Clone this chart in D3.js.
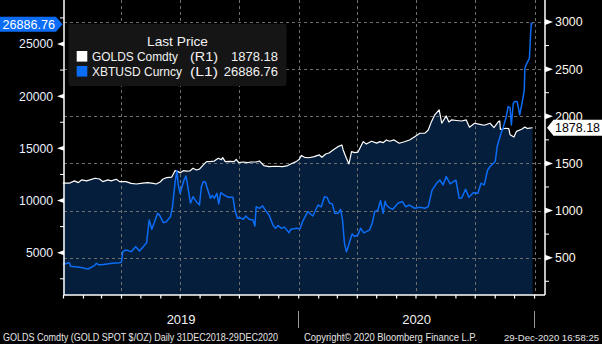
<!DOCTYPE html>
<html><head><meta charset="utf-8">
<script src="https://cdn.jsdelivr.net/npm/d3@7"></script>
<style>
html,body{margin:0;padding:0;background:#000;}
svg{display:block;}
text{font-family:"Liberation Sans",Arial,sans-serif;}
</style></head><body>
<svg id="c" width="602" height="344"></svg>
<script>
// ---- data ----
const goldPrices = [
 ["2018-12-31",1290],["2019-01-10",1290],["2019-01-18",1315],["2019-01-24",1296],["2019-01-29",1325],
 ["2019-02-06",1315],["2019-02-11",1325],["2019-02-19",1343],["2019-02-26",1335],["2019-03-03",1307],
 ["2019-03-11",1325],["2019-03-16",1315],["2019-03-24",1332],["2019-03-29",1307],["2019-04-08",1307],
 ["2019-04-16",1289],["2019-04-24",1282],["2019-05-04",1290],["2019-05-12",1296],["2019-05-20",1289],
 ["2019-05-25",1282],["2019-05-31",1303],["2019-06-04",1332],["2019-06-10",1350],["2019-06-18",1355],
 ["2019-06-23",1423],["2019-06-28",1413],["2019-07-01",1400],["2019-07-06",1423],["2019-07-11",1418],
 ["2019-07-16",1420],["2019-07-21",1449],["2019-07-26",1430],["2019-07-31",1440],["2019-08-06",1484],
 ["2019-08-11",1519],["2019-08-18",1522],["2019-08-23",1525],["2019-08-29",1555],["2019-09-03",1540],
 ["2019-09-05",1562],["2019-09-09",1519],["2019-09-16",1522],["2019-09-23",1519],["2019-09-26",1544],
 ["2019-09-30",1508],["2019-10-06",1515],["2019-10-14",1508],["2019-10-19",1515],["2019-10-27",1515],
 ["2019-11-01",1526],["2019-11-08",1477],["2019-11-16",1466],["2019-11-26",1470],["2019-12-07",1466],
 ["2019-12-15",1477],["2019-12-22",1502],["2019-12-28",1519],["2020-01-02",1545],["2020-01-05",1585],
 ["2020-01-10",1565],["2020-01-17",1560],["2020-01-25",1572],["2020-02-02",1590],["2020-02-06",1565],
 ["2020-02-12",1600],["2020-02-17",1610],["2020-02-25",1650],["2020-03-02",1678],["2020-03-08",1696],
 ["2020-03-10",1643],["2020-03-15",1555],["2020-03-19",1494],["2020-03-23",1625],["2020-03-28",1615],
 ["2020-04-02",1620],["2020-04-10",1731],["2020-04-15",1705],["2020-04-23",1735],["2020-05-01",1715],
 ["2020-05-06",1731],["2020-05-11",1720],["2020-05-16",1749],["2020-05-21",1735],["2020-05-28",1749],
 ["2020-06-05",1714],["2020-06-13",1730],["2020-06-21",1749],["2020-06-29",1784],["2020-07-07",1820],
 ["2020-07-15",1822],["2020-07-20",1855],["2020-07-25",1943],["2020-07-30",2014],["2020-08-06",2068],
 ["2020-08-10",1926],["2020-08-17",2004],["2020-08-21",1940],["2020-08-25",1961],["2020-09-02",1955],
 ["2020-09-10",1950],["2020-09-17",1961],["2020-09-22",1884],["2020-09-30",1926],["2020-10-08",1915],
 ["2020-10-15",1905],["2020-10-24",1926],["2020-10-30",1880],["2020-11-06",1943],["2020-11-08",1950],
 ["2020-11-09",1860],["2020-11-17",1873],["2020-11-22",1870],["2020-11-24",1805],["2020-11-30",1780],
 ["2020-12-04",1840],["2020-12-12",1862],["2020-12-17",1885],["2020-12-21",1870],["2020-12-24",1875],
 ["2020-12-29",1878.18]
];
const btcPrices = [
 ["2018-12-31",3900],["2019-01-10",4040],["2019-01-12",3700],["2019-01-26",3600],["2019-02-08",3440],
 ["2019-02-18",3760],["2019-02-21",3990],["2019-02-24",3850],["2019-03-01",3850],["2019-03-18",3990],
 ["2019-03-29",4040],["2019-04-01",4100],["2019-04-03",5100],["2019-04-08",5260],["2019-04-16",5100],
 ["2019-04-23",5580],["2019-04-29",5160],["2019-05-10",5960],["2019-05-14",8140],["2019-05-18",7250],
 ["2019-05-22",7900],["2019-05-27",8780],["2019-05-30",8600],["2019-06-05",7880],["2019-06-09",7950],
 ["2019-06-16",8450],["2019-06-19",9350],["2019-06-23",11650],["2019-06-26",12850],["2019-06-28",11500],
 ["2019-07-01",10700],["2019-07-07",11970],["2019-07-10",12350],["2019-07-13",11300],["2019-07-17",9740],
 ["2019-07-21",10370],["2019-07-26",9900],["2019-07-31",9570],["2019-08-03",11330],["2019-08-06",11810],
 ["2019-08-09",11800],["2019-08-13",11010],["2019-08-17",10220],["2019-08-20",10500],["2019-08-23",10200],
 ["2019-08-27",10690],["2019-08-30",9670],["2019-09-02",10750],["2019-09-08",10500],["2019-09-14",10310],
 ["2019-09-21",10310],["2019-09-24",9090],["2019-09-28",8300],["2019-10-02",8350],["2019-10-07",8200],
 ["2019-10-11",8520],["2019-10-16",8200],["2019-10-22",8140],["2019-10-25",7560],["2019-10-27",9410],
 ["2019-11-01",9250],["2019-11-06",9480],["2019-11-11",9000],["2019-11-16",8620],["2019-11-22",7660],
 ["2019-11-26",7340],["2019-11-30",7600],["2019-12-05",7340],["2019-12-10",7450],["2019-12-17",6920],
 ["2019-12-20",7250],["2019-12-29",7340],["2020-01-03",7300],["2020-01-08",8100],["2020-01-15",8930],
 ["2020-01-23",8520],["2020-01-31",9570],["2020-02-05",9400],["2020-02-10",10370],["2020-02-14",10300],
 ["2020-02-18",9740],["2020-02-22",9700],["2020-02-26",8780],["2020-03-02",8780],["2020-03-06",9160],
 ["2020-03-09",8140],["2020-03-12",5910],["2020-03-15",5100],["2020-03-17",5400],["2020-03-20",6060],
 ["2020-03-24",6800],["2020-03-28",6550],["2020-04-02",6710],["2020-04-06",7340],["2020-04-11",6900],
 ["2020-04-15",7020],["2020-04-20",7180],["2020-04-24",7820],["2020-04-28",8930],["2020-05-03",9090],
 ["2020-05-07",10000],["2020-05-11",8780],["2020-05-14",9930],["2020-05-16",9570],["2020-05-21",9300],
 ["2020-05-26",9160],["2020-06-03",9740],["2020-06-10",9900],["2020-06-15",9400],["2020-06-21",9570],
 ["2020-06-29",9260],["2020-07-07",9350],["2020-07-15",9260],["2020-07-20",9410],["2020-07-26",11000],
 ["2020-08-02",11650],["2020-08-07",11970],["2020-08-12",11500],["2020-08-17",12290],["2020-08-23",11600],
 ["2020-08-28",11810],["2020-09-01",11950],["2020-09-06",10220],["2020-09-10",10250],["2020-09-16",11080],
 ["2020-09-21",10310],["2020-09-28",10750],["2020-10-05",10690],["2020-10-10",11650],["2020-10-15",11500],
 ["2020-10-20",12900],["2020-10-24",13260],["2020-10-28",13500],["2020-11-01",13740],["2020-11-04",15180],
 ["2020-11-10",16450],["2020-11-13",16930],["2020-11-18",18000],["2020-11-21",19000],["2020-11-24",18900],
 ["2020-11-26",17240],["2020-11-29",19300],["2020-12-01",19480],["2020-12-05",19480],["2020-12-09",18200],
 ["2020-12-14",19800],["2020-12-16",20600],["2020-12-17",22680],["2020-12-20",23150],["2020-12-24",23630],
 ["2020-12-26",26030],["2020-12-27",27000],["2020-12-29",26886.76]
];
const leftTicks = [5000,10000,15000,20000,25000];
const leftMinor = [2500,7500,12500,17500,22500,27500];
const rightTicks = [500,1000,1500,2000,2500,3000];
const rightMinor = [250,750,1250,1750,2250,2750];
const yearLabels = [["2019","2019-01-01","2020-01-01"],["2020","2020-01-01","2021-01-01"]];
const legendRows = [
 {name:"GOLDS Comdty", axis:"(R1)", last:"1878.18", color:"#ffffff"},
 {name:"XBTUSD Curncy", axis:"(L1)", last:"26886.76", color:"#0b6cf5"}
];
const goldLast = 1878.18, btcLast = 26886.76;
const footer = ["GOLDS Comdty (GOLD SPOT $/OZ)  Daily 31DEC2018-29DEC2020",
                "Copyright\u00A9 2020 Bloomberg Finance L.P.",
                "29-Dec-2020 16:58:25"];

// ---- drawing ----
const parse = d3.utcParse("%Y-%m-%d");
const gold = goldPrices.map(d=>({date:parse(d[0]), v:d[1]}));
const btc = btcPrices.map(d=>({date:parse(d[0]), v:d[1]}));

const L=64, R=545, B=295, T=0;
const BLUE="#0b6cf5";
const x = d3.scaleUtc().domain([parse("2019-01-01"), parse("2021-01-18")]).range([63.5, 545.5]);
const yL = d3.scaleLinear().domain([5000,25000]).range([252.7,44]);
const yR = d3.scaleLinear().domain([500,3000]).range([257.7,22]);

const svg = d3.select("#c");
svg.append("rect").attr("width",602).attr("height",344).attr("fill","#000");

// area under gold
svg.append("path").datum(gold)
  .attr("d", d3.area().x(d=>x(d.date)).y0(B).y1(d=>yR(d.v)))
  .attr("fill","#041e3c");

// gridlines
const grid = svg.append("g").attr("stroke","#6e6e6e").attr("stroke-width",1).attr("stroke-dasharray","3,3");
grid.selectAll("line.h").data(rightTicks).join("line")
  .attr("x1",L).attr("x2",R).attr("y1",d=>Math.round(yR(d))+0.5).attr("y2",d=>Math.round(yR(d))+0.5);
const quarters = d3.utcMonth.every(3).range(parse("2019-04-01"), parse("2021-01-02"));
grid.selectAll("line.v").data(quarters).join("line")
  .attr("x1",d=>Math.round(x(d))+0.5).attr("x2",d=>Math.round(x(d))+0.5).attr("y1",T).attr("y2",B);

// lines
svg.append("path").datum(gold)
  .attr("d", d3.line().x(d=>x(d.date)).y(d=>yR(d.v)))
  .attr("fill","none").attr("stroke","#ffffff").attr("stroke-width",1.2).attr("stroke-linejoin","round");
svg.append("path").datum(btc)
  .attr("d", d3.line().x(d=>x(d.date)).y(d=>yL(d.v)))
  .attr("fill","none").attr("stroke",BLUE).attr("stroke-width",1.5).attr("stroke-linejoin","round");

// axes frame
const ax = svg.append("g").attr("stroke","#ffffff").attr("stroke-width",1.5);
ax.append("line").attr("x1",L).attr("x2",L).attr("y1",T).attr("y2",B);
ax.append("line").attr("x1",R).attr("x2",R).attr("y1",T).attr("y2",B);
ax.append("line").attr("x1",L).attr("x2",R).attr("y1",B).attr("y2",B);
// month ticks
const months = d3.utcMonth.range(parse("2019-01-01"), parse("2021-01-02"));
ax.selectAll("line.m").data(months).join("line")
  .attr("stroke-width",1.2)
  .attr("x1",d=>x(d)).attr("x2",d=>x(d)).attr("y1",B).attr("y2",B+3.5);
// minor ticks
ax.selectAll("line.lm").data(leftMinor).join("line").attr("stroke-width",1)
  .attr("x1",L-4).attr("x2",L).attr("y1",d=>yL(d)).attr("y2",d=>yL(d));
ax.selectAll("line.rm").data(rightMinor).join("line").attr("stroke-width",1)
  .attr("x1",R).attr("x2",R+4).attr("y1",d=>yR(d)).attr("y2",d=>yR(d));

// major tick triangles
svg.append("g").selectAll("path").data(leftTicks).join("path")
  .attr("d",d=>{const y=yL(d);return `M${L},${y-2.5}L${L},${y+2.5}L${L-7},${y}Z`;})
  .attr("fill","#fff");
svg.append("g").selectAll("path").data(rightTicks).join("path")
  .attr("d",d=>{const y=yR(d);return `M${R},${y-3}L${R},${y+3}L${R+8},${y}Z`;})
  .attr("fill","#fff");

// tick labels
svg.append("g").selectAll("text").data(leftTicks).join("text")
  .attr("x",53).attr("y",d=>yL(d)).attr("dy","0.36em").attr("text-anchor","end")
  .attr("font-size",12.2).attr("fill","#e9f0ff").text(d=>d);
svg.append("g").selectAll("text").data(rightTicks).join("text")
  .attr("x",555).attr("y",d=>yR(d)).attr("dy","0.36em").attr("text-anchor","start")
  .attr("font-size",12.4).attr("fill","#fff8ec").text(d=>d);

// year labels and separators
svg.append("g").selectAll("text").data(yearLabels).join("text")
  .attr("x",d=>(x(parse(d[1]))+x(parse(d[2])))/2).attr("y",324)
  .attr("text-anchor","middle").attr("font-size",13).attr("fill","#f2f2f2").text(d=>d[0]);
svg.append("g").selectAll("line").data(yearLabels).join("line")
  .attr("x1",d=>Math.round(x(parse(d[2])))-0.5).attr("x2",d=>Math.round(x(parse(d[2])))-0.5)
  .attr("y1",311).attr("y2",328).attr("stroke","#9a9a9a").attr("stroke-width",1);

// footer
const fx = [[3,275,10.2],[304,173,10],[504,95,9.5]];
svg.append("g").selectAll("text").data(footer).join("text")
  .attr("x",(d,i)=>fx[i][0]).attr("y",340.5).attr("font-size",(d,i)=>fx[i][2]).attr("fill","#e6e6e6")
  .attr("textLength",(d,i)=>fx[i][1]).attr("lengthAdjust","spacingAndGlyphs").text(d=>d);

// legend
const lg = svg.append("g");
lg.append("rect").attr("x",68.5).attr("y",24).attr("width",218).attr("height",62).attr("rx",2)
  .attr("fill","#151515");
lg.append("text").attr("x",177.5).attr("y",45.5).attr("text-anchor","middle").attr("font-size",13.5)
  .attr("fill","#f2f2f2").attr("textLength",61).attr("lengthAdjust","spacingAndGlyphs").text("Last Price");
const rowY = [56.5, 71.5];
legendRows.forEach((r,i)=>{
  const y=rowY[i];
  lg.append("rect").attr("x",76.7).attr("y",y-5.5).attr("width",10.6).attr("height",10.6).attr("fill",r.color);
  lg.append("text").attr("x",92).attr("y",y+4.5).attr("font-size",13).attr("fill","#f2f2f2")
    .attr("textLength", i===0?86:90).attr("lengthAdjust","spacingAndGlyphs").text(r.name);
  lg.append("text").attr("x",190).attr("y",y+4.5).attr("font-size",13).attr("fill","#f2f2f2")
    .attr("textLength",28).attr("lengthAdjust","spacingAndGlyphs").text(r.axis);
  lg.append("text").attr("x",278).attr("y",y+4.5).attr("font-size",13).attr("fill","#f2f2f2")
    .attr("text-anchor","end").text(r.last);
});

// last-value labels
const yb = yL(btcLast);
svg.append("path").attr("d",`M0,${yb-7.5}L56,${yb-7.5}L62.5,${yb}L56,${yb+7.5}L0,${yb+7.5}Z`).attr("fill",BLUE);
svg.append("text").attr("x",2.5).attr("y",yb).attr("dy","0.36em").attr("font-size",12.6).attr("fill","#fff")
  .attr("textLength",52.5).attr("lengthAdjust","spacingAndGlyphs").text(btcLast.toFixed(2));
const yg = yR(goldLast);
svg.append("path").attr("d",`M547,${yg}L553.5,${yg-8}L602,${yg-8}L602,${yg+8}L553.5,${yg+8}Z`).attr("fill","#fff");
svg.append("text").attr("x",555).attr("y",yg).attr("dy","0.36em").attr("font-size",12.6).attr("fill","#000")
  .attr("textLength",45).attr("lengthAdjust","spacingAndGlyphs").text(goldLast.toFixed(2));
</script>
</body></html>
